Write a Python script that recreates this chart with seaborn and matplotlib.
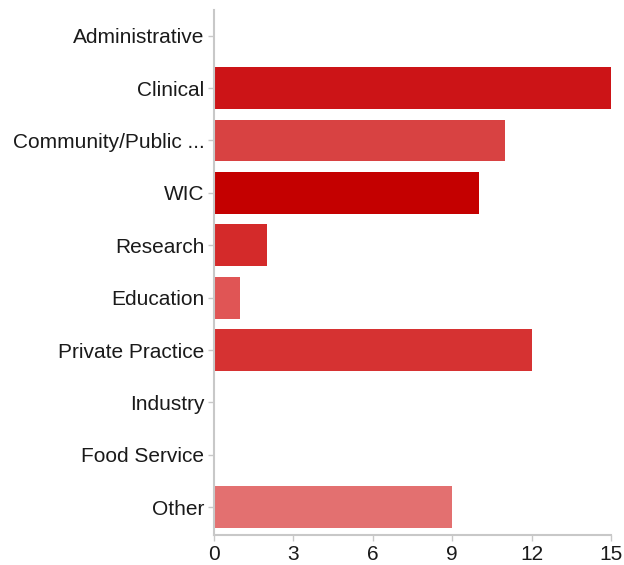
import matplotlib
matplotlib.use("Agg")
import matplotlib.pyplot as plt
import seaborn as sns
import pandas as pd

categories = ["Administrative", "Clinical", "Community/Public ...", "WIC", "Research",
              "Education", "Private Practice", "Industry", "Food Service", "Other"]
values = [0, 15, 11, 10, 2, 1, 12, 0, 0, 9]
colors = ["#cc1417", "#cc1417", "#d84242", "#c40000", "#d42a2a",
          "#e05555", "#d63232", "#cc1417", "#cc1417", "#e37070"]
xticks = [0, 3, 6, 9, 12, 15]

sns.set_theme(style="white")
plt.rcParams["font.family"] = ["Liberation Sans", "DejaVu Sans"]

df = pd.DataFrame({"category": categories, "value": values})

fig = plt.figure(figsize=(6.24, 5.65), dpi=100)
ax = fig.add_axes([0.343, 0.0531, 0.636, 0.9292])

sns.barplot(data=df, x="value", y="category", hue="category",
            palette=dict(zip(categories, colors)), order=categories,
            hue_order=categories, orient="h", width=0.8, legend=False,
            saturation=1, linewidth=0, ax=ax)

ax.set_xlim(0, 15)
ax.set_ylim(9.53, -0.49)
ax.set_xticks(xticks)
ax.set_xticklabels([str(t) for t in xticks])
ax.set_xlabel("")
ax.set_ylabel("")
for s in ["top", "right"]:
    ax.spines[s].set_visible(False)
for s in ["left", "bottom"]:
    ax.spines[s].set_color("#c8c8c8")
    ax.spines[s].set_linewidth(1.5)
ax.tick_params(axis="both", which="both", length=4, width=1, color="#c8c8c8",
               labelsize=15, labelcolor="#1a1a1a", pad=3)
ax.tick_params(axis="y", left=True)
ax.tick_params(axis="x", bottom=True)

fig.savefig("out.png", dpi=100)
